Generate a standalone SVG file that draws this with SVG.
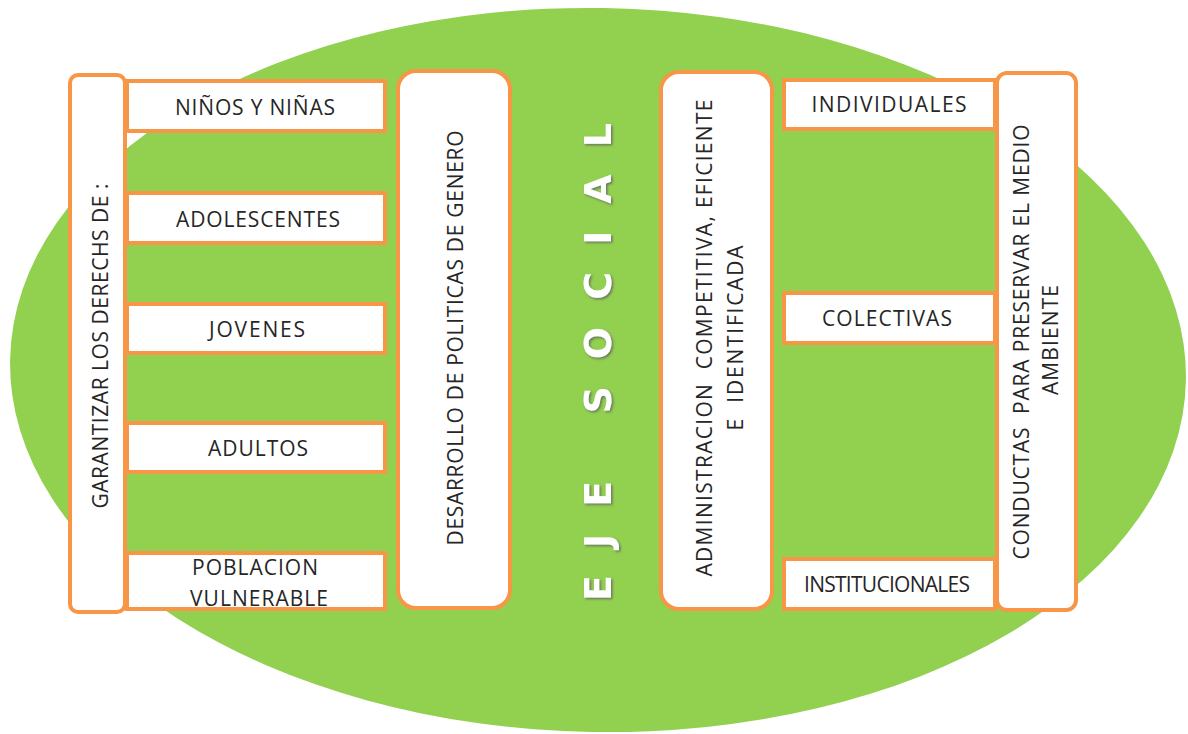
<svg xmlns="http://www.w3.org/2000/svg" width="1188" height="734" viewBox="0 0 1188 734">
<defs>
<style>
.box{fill:#ffffff;stroke:#F79646;stroke-width:4}
.t{font-family:"Open Sans","Liberation Sans",sans-serif;font-size:21px;fill:#262626;text-anchor:middle;dominant-baseline:central}
.eje{font-family:"DejaVu Sans","Liberation Sans",sans-serif;font-size:38px;font-weight:bold;fill:#ffffff;text-anchor:middle;dominant-baseline:central}
</style>
<filter id="sh" x="-20%" y="-20%" width="140%" height="140%">
<feDropShadow dx="-1.5" dy="1.5" stdDeviation="1.2" flood-color="#5f5f5f" flood-opacity="0.8"/>
</filter>
</defs>
<rect width="1188" height="734" fill="#ffffff"/>
<ellipse cx="598" cy="370" rx="588" ry="362" fill="#92D050" transform="rotate(1 598 370)"/>

<g id="garantizar">
<rect class="box" x="70" y="75" width="55" height="537" rx="8"/>
<text class="t" transform="translate(100,346) rotate(-90)" textLength="325" lengthAdjust="spacing">GARANTIZAR LOS DERECHS DE :</text>
</g>
<g id="ninos">
<rect class="box" x="127" y="81" width="258" height="50"/>
<text class="t" x="255" y="107" textLength="160" lengthAdjust="spacing">NIÑOS Y NIÑAS</text>
</g>
<g id="adolescentes">
<rect class="box" x="127" y="193" width="258" height="50"/>
<text class="t" x="258" y="219" textLength="164" lengthAdjust="spacing">ADOLESCENTES</text>
</g>
<g id="jovenes">
<rect class="box" x="127" y="304" width="258" height="49"/>
<text class="t" x="257" y="329" textLength="96" lengthAdjust="spacing">JOVENES</text>
</g>
<g id="adultos">
<rect class="box" x="127" y="423" width="258" height="49"/>
<text class="t" x="258" y="448" textLength="100" lengthAdjust="spacing">ADULTOS</text>
</g>
<g id="poblacion">
<rect class="box" x="127" y="553" width="258" height="56"/>
<text class="t" x="255" y="567" textLength="126" lengthAdjust="spacing">POBLACION</text>
<text class="t" x="259" y="598" textLength="138" lengthAdjust="spacing">VULNERABLE</text>
</g>
<g id="desarrollo">
<rect class="box" x="398" y="71" width="112" height="537" rx="18"/>
<text class="t" transform="translate(455,338) rotate(-90)" textLength="415" lengthAdjust="spacing">DESARROLLO DE POLITICAS DE GENERO</text>
</g>
<g id="eje-social">
<text class="eje" filter="url(#sh)" transform="translate(598,362) rotate(-90)" textLength="478" lengthAdjust="spacing">EJE SOCIAL</text>
</g>
<g id="administracion">
<rect class="box" x="661" y="72" width="111" height="537" rx="18"/>
<text class="t" transform="translate(704,338) rotate(-90)" xml:space="preserve" textLength="477" lengthAdjust="spacing">ADMINISTRACION  COMPETITIVA, EFICIENTE</text>
<text class="t" transform="translate(735,338) rotate(-90)" xml:space="preserve" textLength="185" lengthAdjust="spacing">E  IDENTIFICADA</text>
</g>
<g id="individuales">
<rect class="box" x="784" y="80" width="211" height="49"/>
<text class="t" x="889" y="104" textLength="155" lengthAdjust="spacing">INDIVIDUALES</text>
</g>
<g id="colectivas">
<rect class="box" x="784" y="293" width="211" height="50"/>
<text class="t" x="887" y="318" textLength="130" lengthAdjust="spacing">COLECTIVAS</text>
</g>
<g id="institucionales">
<rect class="box" x="784" y="559" width="211" height="50"/>
<text class="t" x="887" y="584" textLength="166" lengthAdjust="spacing">INSTITUCIONALES</text>
</g>
<g id="conductas">
<rect class="box" x="997" y="73" width="79" height="537" rx="10"/>
<text class="t" transform="translate(1021,342) rotate(-90)" xml:space="preserve" textLength="435" lengthAdjust="spacing">CONDUCTAS  PARA PRESERVAR EL MEDIO</text>
<text class="t" transform="translate(1050,340) rotate(-90)" textLength="110" lengthAdjust="spacing">AMBIENTE</text>
</g>
<g id="connectors"></g>
</svg>
